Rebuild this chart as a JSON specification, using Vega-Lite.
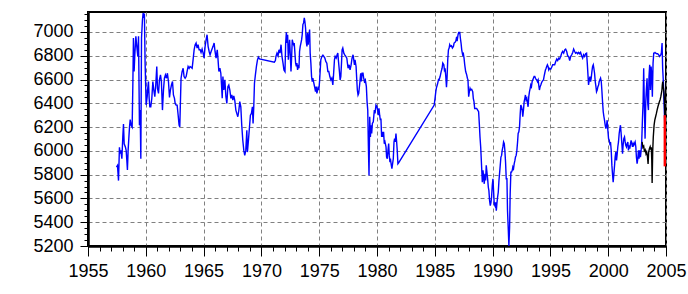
{
 "$schema": "https://vega.github.io/schema/vega-lite/v6.json",
 "width": 578, "height": 234,
 "autosize": {"type": "none"},
 "padding": {"left": 88, "top": 12, "right": 22, "bottom": 48},
 "background": "white",
 "config": {"view": {"stroke": "black", "strokeWidth": 2}},
 "datasets": {
  "blue": [
{"t":1957.46,"v":5864},{"t":1957.55,"v":5878},{"t":1957.64,"v":5750},{"t":1957.72,"v":6030},{"t":1957.78,"v":5976},{"t":1957.84,"v":6004},{"t":1957.93,"v":5934},{"t":1958.01,"v":6117},{"t":1958.07,"v":6225},{"t":1958.13,"v":6060},{"t":1958.24,"v":6030},{"t":1958.30,"v":6004},{"t":1958.36,"v":5920},{"t":1958.41,"v":5840},{"t":1958.47,"v":6004},{"t":1958.53,"v":6103},{"t":1958.59,"v":6200},{"t":1958.65,"v":6264},{"t":1958.73,"v":6216},{"t":1958.82,"v":6200},{"t":1958.88,"v":6563},{"t":1958.93,"v":6950},{"t":1958.99,"v":6667},{"t":1959.05,"v":6808},{"t":1959.14,"v":6963},{"t":1959.22,"v":6879},{"t":1959.31,"v":6794},{"t":1959.37,"v":6963},{"t":1959.45,"v":6216},{"t":1959.51,"v":6343},{"t":1959.57,"v":5934},{"t":1959.63,"v":6950},{"t":1959.71,"v":7100},{"t":1959.77,"v":7160},{"t":1959.83,"v":7118},{"t":1959.88,"v":7155},{"t":1959.94,"v":6738},{"t":1960.03,"v":6385},{"t":1960.12,"v":6456},{"t":1960.17,"v":6526},{"t":1960.23,"v":6583},{"t":1960.29,"v":6442},{"t":1960.35,"v":6371},{"t":1960.43,"v":6371},{"t":1960.52,"v":6442},{"t":1960.61,"v":6583},{"t":1960.69,"v":6512},{"t":1960.78,"v":6456},{"t":1960.86,"v":6554},{"t":1960.95,"v":6710},{"t":1961.01,"v":6526},{"t":1961.10,"v":6484},{"t":1961.18,"v":6597},{"t":1961.27,"v":6639},{"t":1961.35,"v":6583},{"t":1961.44,"v":6343},{"t":1961.53,"v":6512},{"t":1961.61,"v":6611},{"t":1961.70,"v":6639},{"t":1961.79,"v":6611},{"t":1961.87,"v":6653},{"t":1961.96,"v":6583},{"t":1962.05,"v":6450},{"t":1962.13,"v":6512},{"t":1962.22,"v":6554},{"t":1962.31,"v":6583},{"t":1962.39,"v":6470},{"t":1962.48,"v":6442},{"t":1962.54,"v":6399},{"t":1962.62,"v":6385},{"t":1962.71,"v":6385},{"t":1962.80,"v":6300},{"t":1962.88,"v":6216},{"t":1962.94,"v":6202},{"t":1963.00,"v":6428},{"t":1963.05,"v":6611},{"t":1963.14,"v":6667},{"t":1963.23,"v":6695},{"t":1963.31,"v":6625},{"t":1963.40,"v":6611},{"t":1963.49,"v":6625},{"t":1963.57,"v":6667},{"t":1963.66,"v":6710},{"t":1963.75,"v":6695},{"t":1963.83,"v":6710},{"t":1963.92,"v":6704},{"t":1964.01,"v":6695},{"t":1964.09,"v":6766},{"t":1964.18,"v":6850},{"t":1964.27,"v":6893},{"t":1964.35,"v":6907},{"t":1964.44,"v":6865},{"t":1964.52,"v":6893},{"t":1964.61,"v":6850},{"t":1964.70,"v":6850},{"t":1964.78,"v":6828},{"t":1964.87,"v":6856},{"t":1964.96,"v":6822},{"t":1965.04,"v":6780},{"t":1965.13,"v":6879},{"t":1965.22,"v":6935},{"t":1965.30,"v":6977},{"t":1965.39,"v":6879},{"t":1965.48,"v":6836},{"t":1965.56,"v":6808},{"t":1965.65,"v":6836},{"t":1965.73,"v":6856},{"t":1965.82,"v":6879},{"t":1965.91,"v":6907},{"t":1965.99,"v":6836},{"t":1966.08,"v":6780},
{"t":1966.18,"v":6850},{"t":1966.24,"v":6780},{"t":1966.32,"v":6667},{"t":1966.41,"v":6695},{"t":1966.49,"v":6653},{"t":1966.55,"v":6554},{"t":1966.61,"v":6442},{"t":1966.67,"v":6625},{"t":1966.75,"v":6512},{"t":1966.84,"v":6597},{"t":1966.93,"v":6456},{"t":1967.01,"v":6399},{"t":1967.10,"v":6540},{"t":1967.18,"v":6554},{"t":1967.27,"v":6512},{"t":1967.36,"v":6442},{"t":1967.44,"v":6470},{"t":1967.53,"v":6428},{"t":1967.61,"v":6462},{"t":1967.70,"v":6422},{"t":1967.79,"v":6343},{"t":1967.87,"v":6315},{"t":1967.96,"v":6287},{"t":1968.05,"v":6343},{"t":1968.13,"v":6414},{"t":1968.22,"v":6371},{"t":1968.30,"v":6216},{"t":1968.39,"v":6089},{"t":1968.48,"v":6004},{"t":1968.56,"v":5962},{"t":1968.65,"v":6004},{"t":1968.74,"v":6174},{"t":1968.79,"v":5990},{"t":1968.88,"v":6089},{"t":1968.97,"v":6202},{"t":1969.05,"v":6300},{"t":1969.14,"v":6315},{"t":1969.22,"v":6371},{"t":1969.28,"v":6230},{"t":1969.34,"v":6371},{"t":1969.40,"v":6569},{"t":1969.48,"v":6639},{"t":1969.57,"v":6710},{"t":1969.66,"v":6766},{"t":1969.74,"v":6789},{"t":1969.83,"v":6774},{"t":1971.12,"v":6746},{"t":1971.21,"v":6760},{"t":1971.26,"v":6794},{"t":1971.35,"v":6822},{"t":1971.44,"v":6800},{"t":1971.52,"v":6850},{"t":1971.61,"v":6822},{"t":1971.70,"v":6893},{"t":1971.78,"v":6794},{"t":1971.87,"v":6738},{"t":1971.95,"v":6681},{"t":1972.04,"v":6667},{"t":1972.10,"v":6907},{"t":1972.16,"v":6997},{"t":1972.21,"v":6907},{"t":1972.27,"v":6977},{"t":1972.33,"v":6766},{"t":1972.39,"v":6865},{"t":1972.44,"v":6935},{"t":1972.50,"v":6808},{"t":1972.56,"v":6667},{"t":1972.61,"v":6780},{"t":1972.67,"v":6935},{"t":1972.73,"v":6907},{"t":1972.79,"v":6893},{"t":1972.84,"v":6907},{"t":1972.90,"v":6822},{"t":1972.96,"v":6738},{"t":1973.02,"v":6710},{"t":1973.07,"v":6738},{"t":1973.13,"v":6681},{"t":1973.19,"v":6724},{"t":1973.25,"v":6695},{"t":1973.30,"v":6836},{"t":1973.36,"v":6879},{"t":1973.42,"v":6907},{"t":1973.48,"v":6935},{"t":1973.53,"v":6977},{"t":1973.59,"v":7062},{"t":1973.65,"v":7076},{"t":1973.71,"v":7118},{"t":1973.76,"v":7090},{"t":1973.82,"v":7034},{"t":1973.88,"v":6921},{"t":1973.94,"v":6879},{"t":1973.99,"v":6992},{"t":1974.05,"v":6893},{"t":1974.11,"v":6963},{"t":1974.17,"v":7020},{"t":1974.22,"v":6822},{"t":1974.28,"v":6738},{"t":1974.34,"v":6625},{"t":1974.40,"v":6583},{"t":1974.45,"v":6611},{"t":1974.51,"v":6583},{"t":1974.57,"v":6554},{"t":1974.63,"v":6526},{"t":1974.68,"v":6498},{"t":1974.74,"v":6540},{"t":1974.80,"v":6484},{"t":1974.86,"v":6512},{"t":1974.91,"v":6540},{"t":1974.97,"v":6512},{"t":1975.03,"v":6583},{"t":1975.09,"v":6681},{"t":1975.14,"v":6766},{"t":1975.23,"v":6794},{"t":1975.32,"v":6805},{"t":1975.40,"v":6794},{"t":1975.49,"v":6780},{"t":1975.57,"v":6752},{"t":1975.66,"v":6738},{"t":1975.75,"v":6667},
{"t":1975.83,"v":6667},{"t":1975.92,"v":6625},{"t":1976.01,"v":6597},{"t":1976.09,"v":6611},{"t":1976.18,"v":6554},{"t":1976.24,"v":6639},{"t":1976.32,"v":6766},{"t":1976.38,"v":6794},{"t":1976.47,"v":6780},{"t":1976.55,"v":6808},{"t":1976.61,"v":6822},{"t":1976.67,"v":6752},{"t":1976.75,"v":6667},{"t":1976.81,"v":6597},{"t":1976.87,"v":6625},{"t":1976.93,"v":6738},{"t":1976.98,"v":6850},{"t":1977.04,"v":6865},{"t":1977.13,"v":6822},{"t":1977.21,"v":6808},{"t":1977.30,"v":6794},{"t":1977.39,"v":6780},{"t":1977.44,"v":6738},{"t":1977.50,"v":6695},{"t":1977.59,"v":6724},{"t":1977.67,"v":6681},{"t":1977.76,"v":6724},{"t":1977.84,"v":6780},{"t":1977.93,"v":6808},{"t":1977.99,"v":6766},{"t":1978.05,"v":6724},{"t":1978.10,"v":6766},{"t":1978.19,"v":6710},{"t":1978.25,"v":6597},{"t":1978.30,"v":6512},{"t":1978.36,"v":6470},{"t":1978.42,"v":6484},{"t":1978.51,"v":6569},{"t":1978.59,"v":6653},{"t":1978.65,"v":6583},{"t":1978.71,"v":6653},{"t":1978.79,"v":6653},{"t":1978.85,"v":6611},{"t":1978.91,"v":6583},{"t":1978.99,"v":6597},{"t":1979.08,"v":6540},{"t":1979.14,"v":6414},{"t":1979.20,"v":6343},{"t":1979.25,"v":6061},{"t":1979.31,"v":5793},{"t":1979.37,"v":6287},{"t":1979.43,"v":6117},{"t":1979.48,"v":6216},{"t":1979.54,"v":6146},{"t":1979.60,"v":6230},{"t":1979.68,"v":6244},{"t":1979.77,"v":6343},{"t":1979.83,"v":6315},{"t":1979.91,"v":6385},{"t":1980.00,"v":6371},{"t":1980.06,"v":6343},{"t":1980.11,"v":6300},{"t":1980.17,"v":6357},{"t":1980.23,"v":6300},{"t":1980.29,"v":6258},{"t":1980.34,"v":6273},{"t":1980.40,"v":6117},{"t":1980.46,"v":6160},{"t":1980.52,"v":6117},{"t":1980.57,"v":6160},{"t":1980.63,"v":6061},{"t":1980.69,"v":6075},{"t":1980.78,"v":6033},{"t":1980.83,"v":5948},{"t":1980.89,"v":5934},{"t":1980.95,"v":6004},{"t":1981.01,"v":6061},{"t":1981.06,"v":5962},{"t":1981.12,"v":5906},{"t":1981.18,"v":5920},{"t":1981.24,"v":5878},{"t":1981.29,"v":5850},{"t":1981.35,"v":5892},{"t":1981.41,"v":5934},{"t":1981.47,"v":6075},{"t":1981.52,"v":6103},{"t":1981.58,"v":6075},{"t":1981.64,"v":6146},{"t":1981.70,"v":6075},{"t":1981.75,"v":6004},{"t":1981.81,"v":5892},{"t":1981.87,"v":5900},{"t":1984.95,"v":6385},{"t":1985.03,"v":6450},{"t":1985.09,"v":6500},{"t":1985.14,"v":6530},{"t":1985.23,"v":6560},{"t":1985.32,"v":6600},
{"t":1985.37,"v":6597},{"t":1985.46,"v":6625},{"t":1985.55,"v":6667},{"t":1985.63,"v":6695},{"t":1985.69,"v":6738},{"t":1985.78,"v":6724},{"t":1985.83,"v":6681},{"t":1985.89,"v":6695},{"t":1985.95,"v":6625},{"t":1986.01,"v":6535},{"t":1986.06,"v":6611},{"t":1986.12,"v":6766},{"t":1986.18,"v":6850},{"t":1986.24,"v":6865},{"t":1986.29,"v":6893},{"t":1986.35,"v":6879},{"t":1986.44,"v":6884},{"t":1986.52,"v":6865},{"t":1986.61,"v":6879},{"t":1986.67,"v":6907},{"t":1986.75,"v":6913},{"t":1986.81,"v":6921},{"t":1986.87,"v":6949},{"t":1986.95,"v":6935},{"t":1987.01,"v":6977},{"t":1987.07,"v":6997},{"t":1987.16,"v":6997},{"t":1987.21,"v":6949},{"t":1987.27,"v":6907},{"t":1987.33,"v":6850},{"t":1987.41,"v":6808},{"t":1987.47,"v":6817},{"t":1987.53,"v":6780},{"t":1987.59,"v":6724},{"t":1987.67,"v":6667},{"t":1987.76,"v":6639},{"t":1987.82,"v":6611},{"t":1987.87,"v":6597},{"t":1987.93,"v":6456},{"t":1987.99,"v":6498},{"t":1988.05,"v":6526},{"t":1988.10,"v":6512},{"t":1988.19,"v":6518},{"t":1988.28,"v":6498},{"t":1988.33,"v":6442},{"t":1988.39,"v":6414},{"t":1988.45,"v":6357},{"t":1988.53,"v":6357},{"t":1988.62,"v":6357},{"t":1988.71,"v":6343},{"t":1988.79,"v":6329},{"t":1988.85,"v":6230},{"t":1988.91,"v":6117},{"t":1988.97,"v":6033},{"t":1989.05,"v":5864},{"t":1989.11,"v":5737},{"t":1989.17,"v":5836},{"t":1989.22,"v":5779},{"t":1989.28,"v":5723},{"t":1989.34,"v":5807},{"t":1989.40,"v":5751},{"t":1989.45,"v":5878},{"t":1989.51,"v":5821},{"t":1989.57,"v":5765},{"t":1989.63,"v":5694},{"t":1989.68,"v":5666},{"t":1989.74,"v":5582},{"t":1989.80,"v":5539},{"t":1989.86,"v":5567},{"t":1989.91,"v":5610},{"t":1989.97,"v":5708},{"t":1990.03,"v":5765},{"t":1990.09,"v":5652},{"t":1990.14,"v":5553},{"t":1990.20,"v":5539},{"t":1990.26,"v":5567},{"t":1990.32,"v":5497},{"t":1990.37,"v":5553},{"t":1990.43,"v":5610},{"t":1990.49,"v":5652},{"t":1990.55,"v":5751},{"t":1990.60,"v":5807},{"t":1990.66,"v":5878},{"t":1990.72,"v":5948},{"t":1990.78,"v":5962},{"t":1990.83,"v":6004},{"t":1990.89,"v":6033},{"t":1990.95,"v":6075},{"t":1991.01,"v":6061},{"t":1991.06,"v":6004},{"t":1991.12,"v":5906},{"t":1991.18,"v":5765},{"t":1991.24,"v":5765},{"t":1991.29,"v":5497},{"t":1991.35,"v":5356},{"t":1991.41,"v":5200},{"t":1991.47,"v":5356},{"t":1991.52,"v":5638},{"t":1991.58,"v":5821},{"t":1991.64,"v":5821},{"t":1991.70,"v":5836},{"t":1991.75,"v":5864},{"t":1991.81,"v":5850},{"t":1991.87,"v":5892},{"t":1991.93,"v":5920},{"t":1991.98,"v":5948},{"t":1992.04,"v":5962},{"t":1992.10,"v":6004},{"t":1992.16,"v":6075},{"t":1992.21,"v":6146},{"t":1992.27,"v":6160},{"t":1992.33,"v":6202},{"t":1992.39,"v":6315},{"t":1992.44,"v":6385},{"t":1992.50,"v":6371},{"t":1992.56,"v":6343},{"t":1992.61,"v":6287},{"t":1992.67,"v":6343},{"t":1992.73,"v":6414},{"t":1992.79,"v":6442},{"t":1992.84,"v":6470},{"t":1992.90,"v":6428},{"t":1992.96,"v":6442},{"t":1993.02,"v":6399},{"t":1993.07,"v":6371},{"t":1993.13,"v":6456},{"t":1993.19,"v":6498},{"t":1993.25,"v":6526},{"t":1993.30,"v":6554},{"t":1993.36,"v":6540},{"t":1993.42,"v":6583},{"t":1993.48,"v":6597},{"t":1993.53,"v":6611},{"t":1993.59,"v":6625},{"t":1993.65,"v":6625},{"t":1993.71,"v":6611},{"t":1993.76,"v":6602},{"t":1993.82,"v":6597},{"t":1993.88,"v":6583},{"t":1993.94,"v":6597},{"t":1993.99,"v":6554},{"t":1994.05,"v":6512},{"t":1994.11,"v":6540},{"t":1994.17,"v":6554},{"t":1994.22,"v":6569},{"t":1994.28,"v":6583},{"t":1994.34,"v":6591},{"t":1994.40,"v":6597},{"t":1994.45,"v":6625},{"t":1994.51,"v":6653},{"t":1994.57,"v":6681},{"t":1994.63,"v":6695},{"t":1994.68,"v":6710},{"t":1994.74,"v":6724},
{"t":1994.80,"v":6710},{"t":1994.86,"v":6681},{"t":1994.94,"v":6695},{"t":1995.03,"v":6687},{"t":1995.11,"v":6704},{"t":1995.20,"v":6724},{"t":1995.29,"v":6724},{"t":1995.37,"v":6724},{"t":1995.46,"v":6752},{"t":1995.55,"v":6772},{"t":1995.63,"v":6760},{"t":1995.72,"v":6780},{"t":1995.80,"v":6772},{"t":1995.89,"v":6794},{"t":1995.98,"v":6822},{"t":1996.06,"v":6836},{"t":1996.15,"v":6822},{"t":1996.24,"v":6850},{"t":1996.32,"v":6856},{"t":1996.41,"v":6836},{"t":1996.49,"v":6800},{"t":1996.58,"v":6794},{"t":1996.67,"v":6760},{"t":1996.75,"v":6794},{"t":1996.84,"v":6808},{"t":1996.93,"v":6828},{"t":1997.01,"v":6856},{"t":1997.10,"v":6836},{"t":1997.18,"v":6822},{"t":1997.27,"v":6828},{"t":1997.36,"v":6817},{"t":1997.44,"v":6828},{"t":1997.53,"v":6817},{"t":1997.61,"v":6828},{"t":1997.70,"v":6800},{"t":1997.79,"v":6780},{"t":1997.87,"v":6808},{"t":1997.96,"v":6794},{"t":1998.05,"v":6817},{"t":1998.13,"v":6822},{"t":1998.19,"v":6738},{"t":1998.25,"v":6639},{"t":1998.30,"v":6554},{"t":1998.36,"v":6597},{"t":1998.42,"v":6625},{"t":1998.48,"v":6583},{"t":1998.53,"v":6611},{"t":1998.59,"v":6667},{"t":1998.65,"v":6710},{"t":1998.71,"v":6724},{"t":1998.76,"v":6695},{"t":1998.82,"v":6653},{"t":1998.88,"v":6583},{"t":1998.94,"v":6540},{"t":1998.99,"v":6498},{"t":1999.05,"v":6512},{"t":1999.11,"v":6540},{"t":1999.17,"v":6554},{"t":1999.22,"v":6583},{"t":1999.28,"v":6597},{"t":1999.34,"v":6611},{"t":1999.40,"v":6583},{"t":1999.45,"v":6512},{"t":1999.51,"v":6414},{"t":1999.57,"v":6329},{"t":1999.63,"v":6287},{"t":1999.68,"v":6258},{"t":1999.74,"v":6216},{"t":1999.80,"v":6188},{"t":1999.86,"v":6216},{"t":1999.91,"v":6258},{"t":1999.97,"v":6174},{"t":2000.03,"v":6103},{"t":2000.09,"v":6089},{"t":2000.14,"v":6061},{"t":2000.20,"v":6075},{"t":2000.26,"v":6004},{"t":2000.32,"v":5878},{"t":2000.37,"v":5807},{"t":2000.43,"v":5737},{"t":2000.49,"v":5807},{"t":2000.55,"v":5878},{"t":2000.60,"v":5948},{"t":2000.66,"v":5990},{"t":2000.72,"v":5920},{"t":2000.78,"v":5976},{"t":2000.83,"v":6033},{"t":2000.89,"v":6075},{"t":2000.95,"v":6146},{"t":2001.01,"v":6188},{"t":2001.06,"v":6216},{"t":2001.12,"v":6146},{"t":2001.18,"v":6061},{"t":2001.24,"v":5976},{"t":2001.29,"v":6047},{"t":2001.35,"v":6103},{"t":2001.41,"v":6117},{"t":2001.47,"v":6075},{"t":2001.52,"v":6047},{"t":2001.58,"v":6033},{"t":2001.64,"v":6061},{"t":2001.70,"v":6075},{"t":2001.75,"v":6004},{"t":2001.81,"v":6047},{"t":2001.87,"v":6019},{"t":2001.93,"v":6061},{"t":2001.98,"v":6089},{"t":2002.04,"v":6061},{"t":2002.10,"v":6033},{"t":2002.16,"v":6061},{"t":2002.21,"v":6047},{"t":2002.27,"v":6061},{"t":2002.33,"v":6075},{"t":2002.39,"v":6033},{"t":2002.44,"v":5948},{"t":2002.50,"v":5892},{"t":2002.56,"v":5934},{"t":2002.62,"v":6004},{"t":2002.67,"v":5934},{"t":2002.73,"v":6004},{"t":2002.79,"v":5948},{"t":2002.85,"v":6004},{"t":2002.90,"v":6075},{"t":2002.96,"v":6258},{"t":2003.02,"v":6414},{"t":2003.07,"v":6695},{"t":2003.13,"v":6371},{"t":2003.19,"v":6103},{"t":2003.25,"v":6414},{"t":2003.30,"v":6512},{"t":2003.36,"v":6611},{"t":2003.42,"v":6399},{"t":2003.48,"v":6343},{"t":2003.53,"v":6625},{"t":2003.59,"v":6724},{"t":2003.65,"v":6512},{"t":2003.71,"v":6710},{"t":2003.76,"v":6653},{"t":2003.82,"v":6456},{"t":2003.88,"v":6738},{"t":2003.94,"v":6822},{"t":2003.99,"v":6822},{"t":2004.05,"v":6828},{"t":2004.11,"v":6822},{"t":2004.20,"v":6817},{"t":2004.28,"v":6817},{"t":2004.37,"v":6808},{"t":2004.45,"v":6794},{"t":2004.54,"v":6808},{"t":2004.60,"v":6822},{"t":2004.66,"v":6907},{"t":2004.71,"v":6695},{"t":2004.77,"v":6583},{"t":2004.83,"v":6399},{"t":2004.89,"v":6230},{"t":2004.94,"v":6188}
  ],
  "black": [
{"t":2002.93,"v":6075},{"t":2003.0,"v":6030},{"t":2003.07,"v":6040},{"t":2003.13,"v":6000},{"t":2003.2,"v":6010},{"t":2003.27,"v":5975},{"t":2003.33,"v":5990},{"t":2003.4,"v":5950},{"t":2003.45,"v":5890},{"t":2003.5,"v":5990},{"t":2003.57,"v":6020},{"t":2003.63,"v":6035},{"t":2003.68,"v":6010},{"t":2003.73,"v":6030},{"t":2003.77,"v":5920},{"t":2003.8,"v":5730},{"t":2003.85,"v":6000},{"t":2003.9,"v":6117},{"t":2003.97,"v":6216},{"t":2004.03,"v":6258},{"t":2004.1,"v":6287},{"t":2004.17,"v":6315},{"t":2004.23,"v":6343},{"t":2004.3,"v":6371},{"t":2004.37,"v":6394},{"t":2004.43,"v":6414},{"t":2004.5,"v":6433},{"t":2004.55,"v":6456},{"t":2004.6,"v":6484},{"t":2004.65,"v":6512},{"t":2004.68,"v":6554},{"t":2004.72,"v":6583},{"t":2004.76,"v":6540},{"t":2004.82,"v":6498},{"t":2004.87,"v":6420},{"t":2004.9,"v":6300}
  ],
  "red": [
{"t":2004.9,"v":6300},{"t":2004.9,"v":5870}
  ]
 },
 "layer": [
  {
   "data": {"name": "blue"},
   "mark": {"type": "line", "color": "#0000ff", "strokeWidth": 1.4, "clip": true},
   "encoding": {
    "x": {"field": "t", "type": "quantitative", "scale": {"domain": [1955, 2005], "nice": false, "zero": false},
     "axis": {"title": null, "tickCount": 500, "values": [1955,1956,1957,1958,1959,1960,1961,1962,1963,1964,1965,1966,1967,1968,1969,1970,1971,1972,1973,1974,1975,1976,1977,1978,1979,1980,1981,1982,1983,1984,1985,1986,1987,1988,1989,1990,1991,1992,1993,1994,1995,1996,1997,1998,1999,2000,2001,2002,2003,2004,2005],
      "labelExpr": "datum.value % 5 === 0 ? format(datum.value, 'd') : ''",
      "tickSize": {"condition": {"test": "datum.value % 5 === 0", "value": 10}, "value": 5},
      "gridOpacity": {"condition": {"test": "datum.value % 5 === 0", "value": 1}, "value": 0},
      "grid": true, "gridColor": "#808080", "gridDash": [4, 3], "gridWidth": 1,
      "labelFlush": false, "labelOverlap": false, "labelPadding": 6, "labelFontSize": 18, "labelFont": "Liberation Sans", "labelColor": "black",
      "domainColor": "black", "domainWidth": 2.5, "tickColor": "black", "tickWidth": 1}},
    "y": {"field": "v", "type": "quantitative", "scale": {"domain": [5200, 7168], "nice": false, "zero": false},
     "axis": {"title": null, "tickCount": 500, "values": [5200,5250,5300,5350,5400,5450,5500,5550,5600,5650,5700,5750,5800,5850,5900,5950,6000,6050,6100,6150,6200,6250,6300,6350,6400,6450,6500,6550,6600,6650,6700,6750,6800,6850,6900,6950,7000,7050,7100,7150],
      "labelExpr": "datum.value % 200 === 0 ? format(datum.value, 'd') : ''",
      "tickSize": {"condition": {"test": "datum.value % 200 === 0", "value": 8}, "value": 4},
      "gridOpacity": {"condition": {"test": "datum.value % 200 === 0", "value": 1}, "value": 0},
      "grid": true, "gridColor": "#808080", "gridDash": [4, 3], "gridWidth": 1,
      "labelOverlap": false, "labelFlush": false, "labelPadding": 7, "labelFontSize": 18, "labelFont": "Liberation Sans", "labelColor": "black",
      "domainColor": "black", "domainWidth": 2.5, "tickColor": "black", "tickWidth": 1}}
   }
  },
  {
   "data": {"name": "black"},
   "mark": {"type": "line", "color": "#000000", "strokeWidth": 1.4, "clip": true},
   "encoding": {
    "x": {"field": "t", "type": "quantitative"},
    "y": {"field": "v", "type": "quantitative"}
   }
  },
  {
   "data": {"name": "red"},
   "mark": {"type": "line", "color": "#ff0000", "strokeWidth": 2.5, "clip": true},
   "encoding": {
    "x": {"field": "t", "type": "quantitative"},
    "y": {"field": "v", "type": "quantitative"},
    "order": {"field": "v", "sort": "descending"}
   }
  }
 ]
}
